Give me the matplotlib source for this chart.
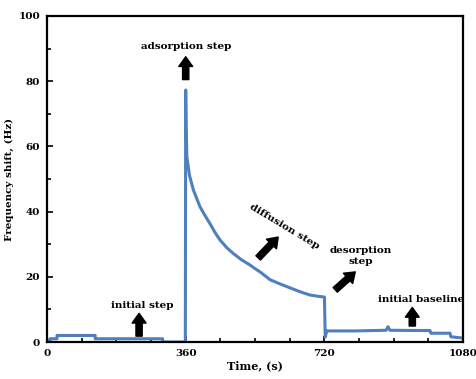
import matplotlib.pyplot as plt
from matplotlib.ticker import MultipleLocator

# time (s) and frequency shift (Hz)
time = [0, 8, 8, 26, 26, 125, 125, 300, 300, 359, 360, 361, 363, 370, 380, 397, 410, 423,
        436, 449, 466, 483, 505, 527, 540, 553, 579, 605, 631, 657, 683, 705, 719, 720,
        722, 726, 800, 880, 885, 890, 994, 996, 1046, 1048, 1080]
shift = [0.5, 0.5, 1.0, 1.0, 2.0, 2.0, 1.0, 1.0, 0.0, 0.0, 77.3, 66.0, 56.8, 51.0, 46.6,
         41.5, 38.8, 36.3, 33.6, 31.3, 29.0, 27.2, 25.2, 23.6, 22.5, 21.5, 19.1, 17.8,
         16.6, 15.4, 14.4, 14.0, 13.8, 13.8, 1.5, 3.4, 3.4, 3.6, 4.7, 3.6, 3.5, 2.7,
         2.7, 1.6, 1.2]

# annotation labels: text, text position, arrow tail, arrow head, rotation
labels = ["adsorption step", "initial step", "diffusion step", "desorption\nstep", "initial baseline"]
label_pos = [(360, 90.5), (247, 11.3), (617, 35.5), (813, 26.5), (971, 12.9)]
arrow_tail = [(360, 80.5), (239, 1.8), (548, 25.8), (748, 16.0), (948, 4.9)]
arrow_head = [(360, 87.5), (239, 8.8), (600, 32.2), (800, 21.5), (948, 10.6)]
label_rot = [0, 0, -31, 0, 0]

fig = plt.figure(figsize=(4.77, 3.79), dpi=100)
ax = fig.add_axes([0.0985, 0.0976, 0.8725, 0.8602])

ax.plot(time, shift, color='#4f7fbd', linewidth=2.2)

for txt, p, a, b, r in zip(labels, label_pos, arrow_tail, arrow_head, label_rot):
    ax.text(p[0], p[1], txt, ha='center', va='center', rotation=r,
            fontsize=7.5, fontweight='bold', family='DejaVu Serif', linespacing=1.3)
    ax.annotate('', xy=b, xytext=a,
                arrowprops=dict(arrowstyle='simple,head_width=1.0,head_length=0.7,tail_width=0.45',
                                color='black', shrinkA=0, shrinkB=0))

ax.set_xlim(0, 1080)
ax.set_ylim(0, 100)
ax.xaxis.set_major_locator(MultipleLocator(360))
ax.xaxis.set_minor_locator(MultipleLocator(90))
ax.yaxis.set_major_locator(MultipleLocator(20))
ax.yaxis.set_minor_locator(MultipleLocator(10))
ax.tick_params(which='both', direction='in', width=1.2)
ax.tick_params(which='major', length=4, pad=5)
ax.tick_params(which='minor', length=3)
for lab in ax.get_xticklabels() + ax.get_yticklabels():
    lab.set_fontweight('bold')
    lab.set_family('DejaVu Serif')
    lab.set_fontsize(7.5)
for s in ax.spines.values():
    s.set_linewidth(1.6)

ax.set_xlabel('Time, (s)', fontsize=8, fontweight='bold', family='DejaVu Serif', labelpad=2)
ax.set_ylabel('Frequency shift, (Hz)', fontsize=7.5, fontweight='bold', family='DejaVu Serif', labelpad=3)

fig.savefig('out.png', dpi=100)
